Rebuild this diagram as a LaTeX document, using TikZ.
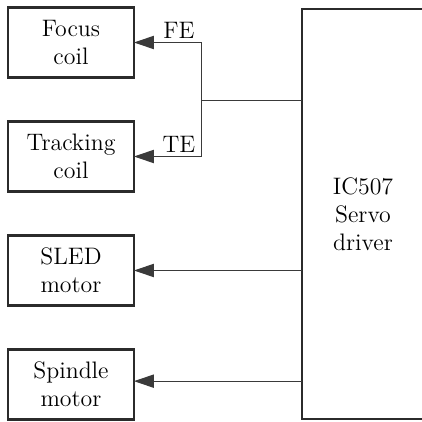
\documentclass[tikz,border=0pt]{standalone}
\usepackage{tikz}
\usetikzlibrary{arrows.meta,positioning}
\definecolor{servodark}{HTML}{2B2B2B}
\definecolor{servoline}{HTML}{3A3A3A}

\begin{document}
\begin{tikzpicture}[
    x=0.6pt, y=0.6pt,
    node distance=26.4pt,
    box/.style={draw=servodark, line width=1.6pt, align=center, minimum width=75.6pt,
      minimum height=42pt, inner sep=0pt, outer sep=0pt, font=\fontsize{14.3}{16.8}\selectfont},
    driverbox/.style={box, minimum width=73.2pt, minimum height=246pt},
    arrow/.style={-{Triangle[length=12pt,width=8pt]}, line width=0.6pt, draw=servoline},
    wire/.style={line width=0.6pt, draw=servoline},
    sig/.style={font=\fontsize{14.3}{16}\selectfont, inner sep=2pt}
  ]
    \useasboundingbox (0,0) rectangle (422,422);
    \clip (0,0) rectangle (422,422);

    \node[box] (focus) at (71,379.5) {Focus\\coil};
    \node[box, below=of focus] (tracking) {Tracking\\coil};
    \node[box, below=of tracking] (sled) {SLED\\motor};
    \node[box, below=of sled] (spindle) {Spindle\\motor};
    \node[driverbox] (driver) at (363,208) {IC507\\Servo\\driver};
    \coordinate (split) at (202,322);
    \coordinate (spin in) at ([yshift=2pt]spindle.east);

    \draw[wire] (driver.west |- split) -- (split);
    \draw[arrow] (split) |- node[sig, above, pos=0.67] {FE} (focus.east);
    \draw[arrow] (split) |- node[sig, above, pos=0.67] {TE} (tracking.east);
    \draw[arrow] (driver.west |- sled.east) -- (sled.east);
    \draw[arrow] (driver.west |- spin in) -- (spin in);
  \end{tikzpicture}
\end{document}
